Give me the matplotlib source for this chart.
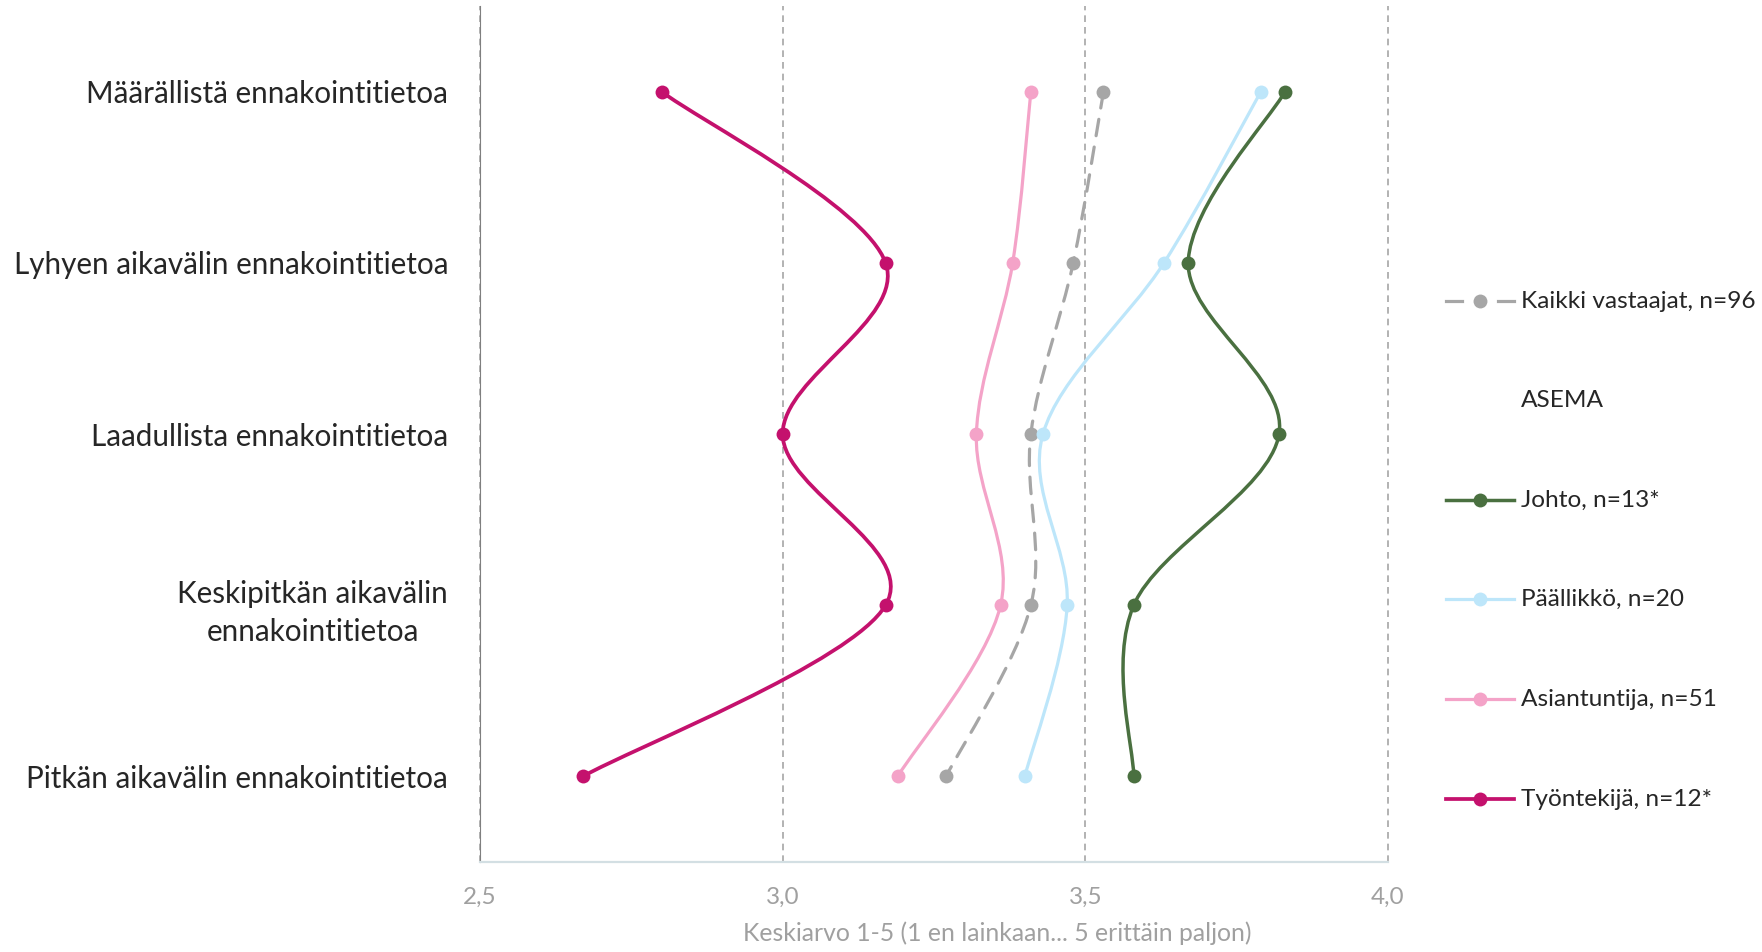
import numpy as np
import matplotlib
matplotlib.use("Agg")
import matplotlib.pyplot as plt
from matplotlib.path import Path
from matplotlib.patches import PathPatch
from matplotlib.lines import Line2D

plt.rcParams['font.family'] = ['Lato', 'DejaVu Sans']

# Categories (top to bottom)
categories = [
    'Määrällistä ennakointitietoa',
    'Lyhyen aikavälin ennakointitietoa',
    'Laadullista ennakointitietoa',
    'Keskipitkän aikavälin\nennakointitietoa',
    'Pitkän aikavälin ennakointitietoa',
]

# Mean values per group
kaikki = [3.53, 3.48, 3.41, 3.41, 3.27]
johto = [3.83, 3.67, 3.82, 3.58, 3.58]
paallikko = [3.79, 3.63, 3.43, 3.47, 3.40]
asiantuntija = [3.41, 3.38, 3.32, 3.36, 3.19]
tyontekija = [2.80, 3.17, 3.00, 3.17, 2.67]

series_names = ['Kaikki vastaajat, n=96', 'Johto, n=13*', 'Päällikkö, n=20',
                'Asiantuntija, n=51', 'Työntekijä, n=12*']
series_values = [kaikki, johto, paallikko, asiantuntija, tyontekija]
colors = ['#A6A6A6', '#4A7040', '#BDE6FA', '#F4A3C8', '#C4116D']
widths = [2.3, 2.5, 2.3, 2.3, 2.7]
dash = (0, (5.2, 3.6))

xticks = [2.5, 3.0, 3.5, 4.0]
xtick_labels = ['2,5', '3,0', '3,5', '4,0']


def smooth_path(xs, ys):
    # Excel-style smoothed line: cubic Bezier segments (Catmull-Rom control points)
    pts = np.column_stack([xs, ys]).astype(float)
    n = len(pts)
    verts = [pts[0]]
    codes = [Path.MOVETO]
    for i in range(n - 1):
        p0 = pts[max(i - 1, 0)]
        p1 = pts[i]
        p2 = pts[i + 1]
        p3 = pts[min(i + 2, n - 1)]
        c1 = p1 + (p2 - p0) / 6.0
        c2 = p2 - (p3 - p1) / 6.0
        verts += [c1, c2, p2]
        codes += [Path.CURVE4] * 3
    return Path(verts, codes)


fig = plt.figure(figsize=(17.62, 9.52), dpi=100)
ax = fig.add_axes([480 / 1762, 90 / 952, 908 / 1762, 856 / 952])

ypos = np.arange(len(categories))

for x in xticks:
    ax.axvline(x, color='#A6A6A6', lw=1.2, dashes=(4, 3), zorder=1, clip_on=False)

for i, (name, vals) in enumerate(zip(series_names, series_values)):
    ls = dash if i == 0 else '-'
    patch = PathPatch(smooth_path(vals, ypos), fill=False, edgecolor=colors[i],
                      lw=widths[i], linestyle=ls, capstyle='round', zorder=2 + i)
    ax.add_patch(patch)
    ax.plot(vals, ypos, 'o', color=colors[i], ms=10, mec='none', zorder=2.5 + i)

ax.set_xlim(2.5, 4.0)
ax.set_ylim(4.5, -0.5)
ax.set_xticks(xticks)
ax.set_xticklabels(xtick_labels, fontsize=17.5, color='#A0A0A0')
ax.set_yticks(ypos)
ax.set_yticklabels(categories, fontsize=21.3, color='#262626')
for lab in ax.get_yticklabels():
    lab.set_multialignment('center')
    lab.set_linespacing(1.45)
ax.tick_params(axis='both', length=0)
ax.tick_params(axis='x', pad=18)
ax.tick_params(axis='y', pad=23)

for s in ['top', 'right']:
    ax.spines[s].set_visible(False)
ax.spines['left'].set_color('#7F7F7F')
ax.spines['left'].set_linewidth(0.8)
ax.spines['bottom'].set_color('#D3DFE3')
ax.spines['bottom'].set_linewidth(1.6)

fig.text(997 / 1762, 1 - 933 / 952, 'Keskiarvo 1-5 (1 en lainkaan... 5 erittäin paljon)',
         ha='center', va='center', fontsize=17.8, color='#A0A0A0')

# Legend drawn by hand: first entry, "ASEMA" header, then the groups
leg_y = [301, 400, 500, 599, 699, 799]
entries = [(series_names[0], 0), ('ASEMA', None)] + [(series_names[k], k) for k in range(1, 5)]
x0, x1, xm, xt = 1446 / 1762, 1514 / 1762, 1480 / 1762, 1521 / 1762
for (label, k), yy in zip(entries, leg_y):
    yf = 1 - yy / 952
    if k == 0:
        for a, b in [(1446, 1462), (1498, 1514)]:
            fig.add_artist(Line2D([a / 1762, b / 1762], [yf, yf], color=colors[k],
                                  lw=widths[k], transform=fig.transFigure))
    elif k is not None:
        fig.add_artist(Line2D([x0, x1], [yf, yf], color=colors[k], lw=widths[k],
                              transform=fig.transFigure))
    if k is not None:
        fig.add_artist(Line2D([xm], [yf], marker='o', ms=10, color=colors[k], mec='none',
                              transform=fig.transFigure))
    fig.text(xt, yf, label, ha='left', va='center', fontsize=17.6, color='#262626')

fig.savefig('out.png', dpi=100)
